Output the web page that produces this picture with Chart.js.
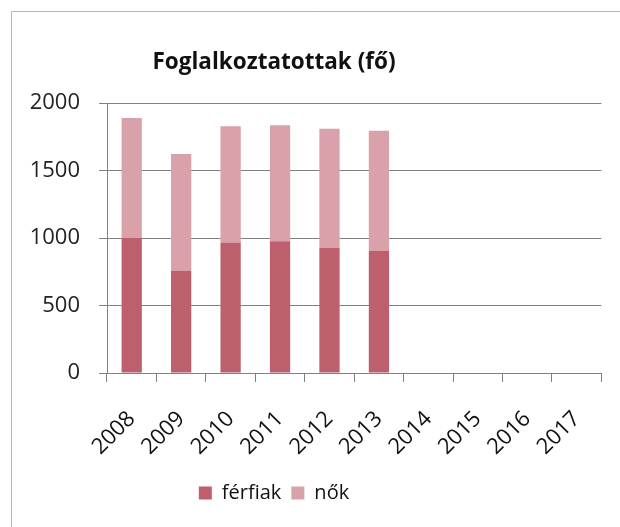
<!DOCTYPE html>
<html>
<head>
<meta charset="utf-8">
<script src="https://cdn.jsdelivr.net/npm/chart.js@4"></script>
<style>
  html, body { margin: 0; padding: 0; background: #fff; }
  #wrap { width: 620px; height: 527px; }
</style>
</head>
<body>
<div id="wrap"><canvas id="employedChart" width="620" height="527"></canvas></div>
<script>
const years = ["2008", "2009", "2010", "2011", "2012", "2013", "2014", "2015", "2016", "2017"];
const men = [1000, 755, 966, 976, 928, 903, null, null, null, null];
const women = [888, 868, 861, 860, 881, 891, null, null, null, null];
const yTicks = [0, 500, 1000, 1500, 2000];

// light frame of the chart object, cut off at right and bottom
const frame = {
  id: "frame",
  beforeDraw(chart) {
    const ctx = chart.ctx;
    ctx.save();
    ctx.strokeStyle = "#b5b5b5";
    ctx.lineWidth = 1;
    ctx.beginPath();
    ctx.moveTo(11.5, 527);
    ctx.lineTo(11.5, 11.5);
    ctx.lineTo(620, 11.5);
    ctx.stroke();
    ctx.restore();
  }
};

// title and legend sit centred on the left part of the frame
const shiftBoxes = {
  id: "shiftBoxes",
  afterLayout(chart) {
    [chart.titleBlock, chart.legend].forEach(function (box) {
      box.left = 11;
      box.right = 537;
      box.width = 526;
    });
  }
};

new Chart(document.getElementById("employedChart"), {
  type: "bar",
  data: {
    labels: years,
    datasets: [
      {
        label: "férfiak",
        data: men,
        backgroundColor: "#bd5f6c",
        barPercentage: 0.41,
        categoryPercentage: 1,
      },
      {
        label: "nők",
        data: women,
        backgroundColor: "#d9a1a9",
        barPercentage: 0.41,
        categoryPercentage: 1,
      },
    ],
  },
  plugins: [frame, shiftBoxes],
  options: {
    responsive: false,
    animation: false,
    layout: { padding: { top: 49, right: 13, bottom: 14, left: 0 } },
    plugins: {
      title: {
        display: true,
        text: "Foglalkoztatottak (fő)",
        color: "#111",
        font: { family: "Open Sans", size: 22.5, weight: "bold" },
        padding: { top: 0, bottom: 27 },
      },
      legend: {
        position: "bottom",
        labels: {
          color: "#111",
          font: { family: "Open Sans", size: 20 },
          boxWidth: 13,
          boxHeight: 13,
          padding: 10,
        },
      },
      tooltip: { enabled: false },
    },
    scales: {
      x: {
        stacked: true,
        afterFit: function (scale) { scale.height = 100; },
        grid: { drawOnChartArea: false, drawTicks: true, tickLength: 9, color: "#808080" },
        border: { color: "#808080" },
        ticks: {
          color: "#111",
          font: { family: "Open Sans", size: 22 },
          minRotation: 45,
          maxRotation: 45,
          padding: 24,
        },
      },
      y: {
        stacked: true,
        min: 0,
        max: 2000,
        afterFit: function (scale) { scale.width = 107; },
        afterBuildTicks: function (scale) {
          scale.ticks = yTicks.map(function (v) { return { value: v }; });
        },
        grid: { color: "#808080", tickLength: 8 },
        border: { color: "#808080" },
        ticks: {
          color: "#222",
          font: { family: "Open Sans", size: 22 },
          padding: 19,
          callback: function (value) { return String(value); },
        },
      },
    },
  },
});
</script>
</body>
</html>
